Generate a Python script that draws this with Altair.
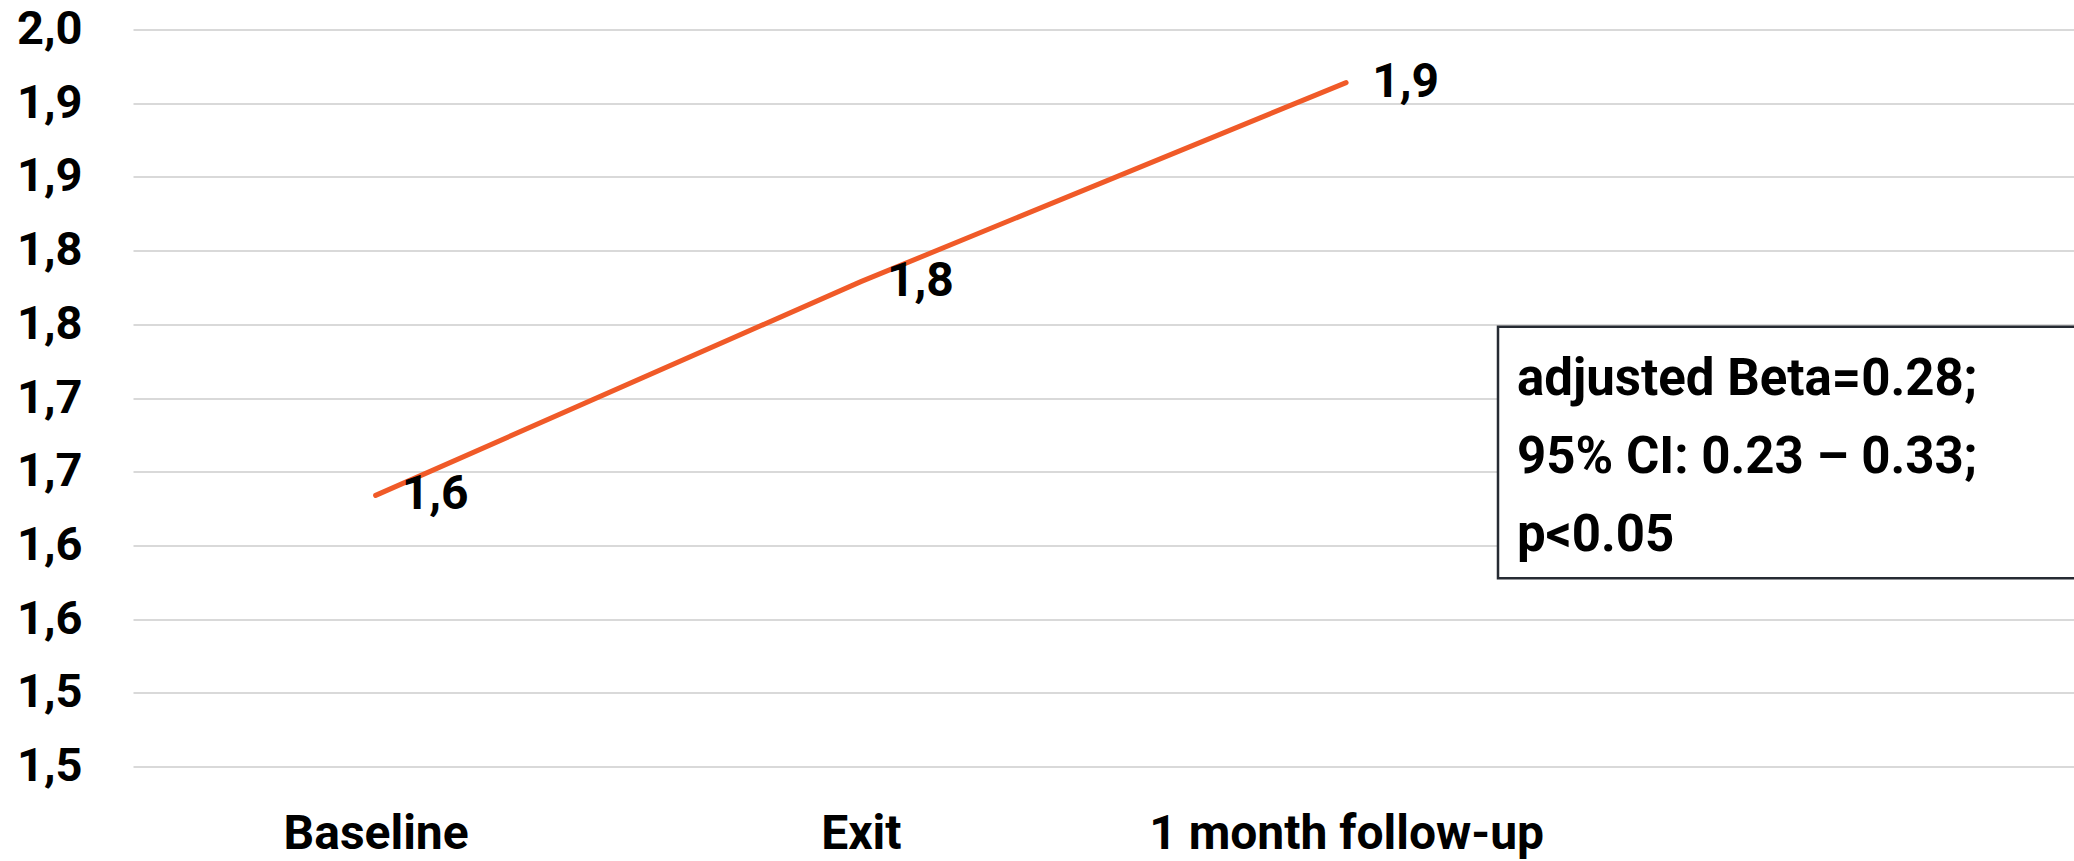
import altair as alt
import pandas as pd

# ---- data ----
categories = ["Baseline", "Exit", "1 month follow-up"]
x_domain = ["Baseline", "Exit", "1 month follow-up", ""]   # 4th slot is empty in the original
values = [1.634, 1.779, 1.914]

y_tick_values = [1.45, 1.50, 1.55, 1.60, 1.65, 1.70, 1.75, 1.80, 1.85, 1.90, 1.95]
y_tick_labels = ["1,5", "1,5", "1,6", "1,6", "1,7", "1,7", "1,8", "1,8", "1,9", "1,9", "2,0"]

annotation_lines = ["adjusted Beta=0.28;", "95% CI: 0.23 \u2013 0.33;", "p<0.05"]

FONT = "Roboto"
LINE_COLOR = "#F05A28"

TOP = 29.5
W, H = 1941, 737.2

df = pd.DataFrame({"stage": categories, "value": values})

label_array = "[" + ",".join("'" + s + "'" for s in y_tick_labels) + "]"
label_expr = label_array + "[indexof([" + ",".join(repr(v) for v in y_tick_values) + "], datum.value)]"

x_scale = alt.Scale(type="point", domain=x_domain, padding=0.5)
y_scale = alt.Scale(domain=[1.45, 1.95], nice=False, zero=False)

x_enc = alt.X(
    "stage:N",
    sort=x_domain,
    scale=x_scale,
    axis=alt.Axis(
        title=None, domain=False, ticks=False, tickSize=0, grid=False,
        labelAngle=0, labelFont=FONT, labelFontSize=48, labelFontWeight="bold",
        labelColor="#000000", labelPadding=44, labelBaseline="top", labelLimit=0,
    ),
)
y_enc = alt.Y(
    "value:Q",
    scale=y_scale,
    axis=alt.Axis(
        title=None, values=y_tick_values, labelExpr=label_expr,
        domain=False, ticks=False, tickSize=0,
        grid=True, gridColor="#d9d9d9", gridWidth=2,
        labelFont=FONT, labelFontSize=47, labelFontWeight="bold",
        labelColor="#000000", labelPadding=51, labelLimit=0,
    ),
)

base = alt.Chart(df)

line = base.mark_line(color=LINE_COLOR, strokeWidth=5, strokeCap="round").encode(x=x_enc, y=y_enc)

labels = base.transform_calculate(
    lbl="replace(format(datum.value, '.1f'), '.', ',')"
).mark_text(
    align="left", baseline="middle", dx=26, font=FONT, fontSize=48,
    fontWeight="bold", color="#000000",
).encode(x=alt.X("stage:N", sort=x_domain, scale=x_scale),
         y=alt.Y("value:Q", scale=y_scale),
         text="lbl:N")

box = alt.Chart(pd.DataFrame({"a": [0]})).mark_rect(
    fill="white", stroke="#262b33", strokeWidth=2.5
).encode(
    x=alt.value(1365), x2=alt.value(W + 20),
    y=alt.value(326.7 - TOP), y2=alt.value(578.3 - TOP),
)

box_text = alt.Chart(pd.DataFrame({"a": [0]})).mark_text(
    align="left", baseline="alphabetic", font=FONT, fontSize=51,
    fontWeight="bold", color="#000000", lineHeight=78,
).encode(
    x=alt.value(1384), y=alt.value(395.3 - TOP),
    text=alt.value(annotation_lines),
)

chart = alt.layer(line, labels, box, box_text).properties(
    width=W, height=H,
    autosize=alt.AutoSizeParams(type="none"),
    padding={"left": 133, "top": TOP, "right": 0, "bottom": 861 - TOP - H},
    background="white",
).configure_view(stroke=None)

chart.save("out.html", embed_options={"renderer": "svg", "actions": False})
